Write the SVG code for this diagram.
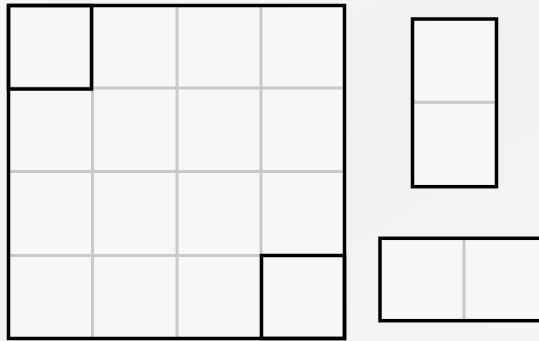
<svg xmlns="http://www.w3.org/2000/svg" width="539" height="341" viewBox="0 0 539 341">
  <style>
    .grid { stroke: #c9c9c9; stroke-width: 3; fill: none; }
    .box { stroke: #000; stroke-width: 3.5; fill: none; }
  </style>
  <defs>
    <linearGradient id="bg" x1="0" y1="0" x2="1" y2="1">
      <stop offset="0" stop-color="#f6f6f6"/>
      <stop offset="0.5" stop-color="#f1f1f1"/>
      <stop offset="1" stop-color="#f5f5f5"/>
    </linearGradient>
  </defs>
  <rect x="0" y="0" width="539" height="341" fill="url(#bg)"/>

  <g id="big-grid">
    <rect x="8.5" y="5.5" width="336" height="333" fill="#f7f7f7"/>
    <g class="grid">
      <line x1="92.5" y1="5.5" x2="92.5" y2="338.5"/>
      <line x1="177" y1="5.5" x2="177" y2="338.5"/>
      <line x1="261" y1="5.5" x2="261" y2="338.5"/>
      <line x1="8.5" y1="88" x2="344.5" y2="88"/>
      <line x1="8.5" y1="171.5" x2="344.5" y2="171.5"/>
      <line x1="8.5" y1="255.5" x2="344.5" y2="255.5"/>
    </g>
    <rect class="box" x="8.5" y="5.5" width="336" height="333"/>
  </g>
  <g id="corner-top-left">
    <rect class="box" x="8.5" y="5.5" width="83" height="83.5"/>
  </g>
  <g id="corner-bottom-right">
    <rect class="box" x="261.5" y="255.5" width="83" height="83"/>
  </g>

  <g id="tall-domino">
    <rect x="412.5" y="19" width="84" height="167.7" fill="#f7f7f7"/>
    <line class="grid" x1="412.5" y1="102.3" x2="496.5" y2="102.3"/>
    <rect class="box" x="412.5" y="19" width="84" height="167.7"/>
  </g>

  <g id="wide-domino">
    <rect x="380" y="238.3" width="168" height="82.4" fill="#f7f7f7"/>
    <line class="grid" x1="464" y1="238.3" x2="464" y2="320.7"/>
    <rect class="box" x="380" y="238.3" width="168" height="82.4"/>
  </g>

  <g id="connectors"></g>
</svg>
